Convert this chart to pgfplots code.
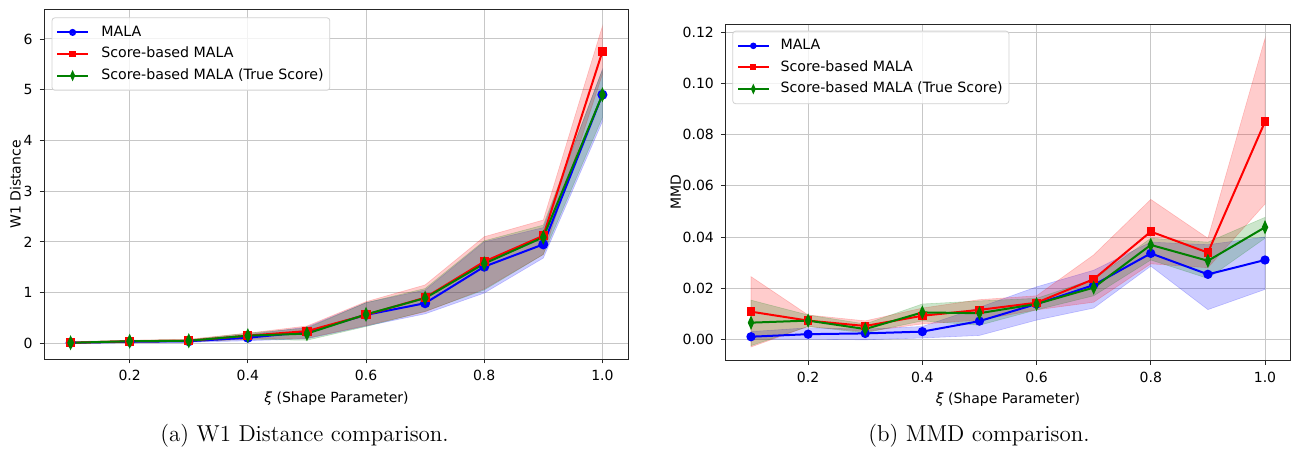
\documentclass[border=0pt]{standalone}
\usepackage{fontspec}
\usepackage{pgfplots}
\pgfplotsset{compat=1.18}
\usepackage{pgfplotstable}
\newfontfamily\dv{DejaVu Sans}

\pgfplotstableread{
x m
0.1 0.01
0.2 0.03
0.3 0.04
0.4 0.11
0.5 0.22
0.6 0.56
0.7 0.79
0.8 1.51
0.9 1.95
1.0 4.90
}\wblue
\pgfplotstableread{
x m
0.1 0.01
0.2 0.04
0.3 0.05
0.4 0.15
0.5 0.24
0.6 0.56
0.7 0.90
0.8 1.61
0.9 2.12
1.0 5.75
}\wred
\pgfplotstableread{
x m
0.1 0.01
0.2 0.04
0.3 0.05
0.4 0.15
0.5 0.19
0.6 0.57
0.7 0.89
0.8 1.57
0.9 2.09
1.0 4.90
}\wgreen
% bands: upper bound forward, lower bound backward
\pgfplotstableread{
x y
0.1 0.02
0.2 0.05
0.3 0.06
0.4 0.17
0.5 0.32
0.6 0.80
0.7 1.05
0.8 2.00
0.9 2.28
1.0 5.40
1.0 4.37
0.9 1.68
0.8 0.99
0.7 0.58
0.6 0.34
0.5 0.09
0.4 0.05
0.3 0.02
0.2 0.01
0.1 0.00
}\wblueband
\pgfplotstableread{
x y
0.1 0.03
0.2 0.06
0.3 0.08
0.4 0.20
0.5 0.34
0.6 0.82
0.7 1.15
0.8 2.10
0.9 2.43
1.0 6.25
1.0 5.30
0.9 1.75
0.8 1.07
0.7 0.62
0.6 0.35
0.5 0.10
0.4 0.08
0.3 0.03
0.2 0.02
0.1 0.00
}\wredband
\pgfplotstableread{
x y
0.1 0.03
0.2 0.06
0.3 0.07
0.4 0.20
0.5 0.30
0.6 0.80
0.7 1.08
0.8 2.02
0.9 2.33
1.0 5.39
1.0 4.45
0.9 1.75
0.8 1.05
0.7 0.63
0.6 0.33
0.5 0.06
0.4 0.08
0.3 0.03
0.2 0.02
0.1 0.00
}\wgreenband

\pgfplotstableread{
x m
0.1 0.0010
0.2 0.0020
0.3 0.0023
0.4 0.0030
0.5 0.0071
0.6 0.0138
0.7 0.0212
0.8 0.0336
0.9 0.0254
1.0 0.0310
}\mblue
\pgfplotstableread{
x m
0.1 0.0108
0.2 0.0073
0.3 0.0052
0.4 0.0092
0.5 0.0115
0.6 0.0143
0.7 0.0235
0.8 0.0421
0.9 0.0339
1.0 0.0851
}\mred
\pgfplotstableread{
x m
0.1 0.0065
0.2 0.0073
0.3 0.0040
0.4 0.0105
0.5 0.0102
0.6 0.0138
0.7 0.0202
0.8 0.0369
0.9 0.0307
1.0 0.0438
}\mgreen
\pgfplotstableread{
x y
0.1 0.0030
0.2 0.0045
0.3 0.0040
0.4 0.0050
0.5 0.0125
0.6 0.0205
0.7 0.0270
0.8 0.0380
0.9 0.0370
1.0 0.0400
1.0 0.0195
0.9 0.0116
0.8 0.0286
0.7 0.0122
0.6 0.0075
0.5 0.0015
0.4 0.0005
0.3 -0.0002
0.2 0.0000
0.1 0.0000
}\mblueband
\pgfplotstableread{
x y
0.1 0.0245
0.2 0.0095
0.3 0.0072
0.4 0.0122
0.5 0.0155
0.6 0.0170
0.7 0.0330
0.8 0.0547
0.9 0.0395
1.0 0.1177
1.0 0.0529
0.9 0.0280
0.8 0.0295
0.7 0.0145
0.6 0.0115
0.5 0.0075
0.4 0.0060
0.3 0.0030
0.2 0.0050
0.1 -0.0030
}\mredband
\pgfplotstableread{
x y
0.1 0.0153
0.2 0.0095
0.3 0.0060
0.4 0.0138
0.5 0.0150
0.6 0.0160
0.7 0.0235
0.8 0.0395
0.9 0.0380
1.0 0.0477
1.0 0.0395
0.9 0.0238
0.8 0.0310
0.7 0.0170
0.6 0.0115
0.5 0.0055
0.4 0.0072
0.3 0.0025
0.2 0.0050
0.1 -0.0025
}\mgreenband

\definecolor{mplgreen}{RGB}{0,128,0}

\pgfplotsset{
  mpl/.style={
    scale only axis,
    anchor=north west,
    font=\dv\fontsize{7}{8.4}\selectfont,
    /pgf/number format/assume math mode=true,
    xmin=0.055, xmax=1.045,
    xtick={0.2,0.4,0.6,0.8,1.0},
    x tick label style={/pgf/number format/.cd, fixed, fixed zerofill, precision=1},
    scaled ticks=false,
    tick pos=left, tick align=outside,
    major tick length=2.2pt,
    tick style={black!85, line width=0.4pt},
    grid=major, major grid style={black!22, line width=0.5pt},
    axis line style={black!85, line width=0.5pt},
    xlabel={{\itshape ξ} (Shape Parameter)},
    xlabel style={yshift=1.5pt},
    legend cell align=left,
    legend style={anchor=north west, draw=black!18,
      rounded corners=1.5pt, fill=white, fill opacity=0.8, text opacity=1,
      font=\dv\fontsize{7.1}{8.4}\selectfont,
      nodes={inner sep=0.9pt, text height=5.4pt, text depth=1.5pt},
      row sep=2.1pt, inner xsep=2.2pt, inner ysep=3pt,
      /tikz/every odd column/.append style={column sep=5.4pt}},
    legend image code/.code={\draw[mark repeat=2,mark phase=2, every mark/.append style={scale=0.62}] plot coordinates {(0pt,0pt)(7.6pt,0pt)(15.2pt,0pt)};},
    band/.style={fill=##1, fill opacity=0.2, draw=##1, draw opacity=0.2, line width=0.3pt, forget plot},
  }
}

\begin{document}
\begin{tikzpicture}
\path[use as bounding box] (0,0) rectangle (647pt,-224.5pt);

\begin{axis}[mpl, at={(22pt,-5pt)}, width=292.5pt, height=174.5pt,
  ymin=-0.31, ymax=6.57, ytick={0,1,2,3,4,5,6},
  legend style={at={(0.013,0.979)}},
  ylabel={W1 Distance}, ylabel style={yshift=-5.5pt}]
  \addplot[band=blue] table[x=x,y=y]{\wblueband} -- cycle;
  \addplot[band=red] table[x=x,y=y]{\wredband} -- cycle;
  \addplot[band=mplgreen] table[x=x,y=y]{\wgreenband} -- cycle;
  \addplot[blue, line width=1pt, mark=*, mark size=2pt, mark options={solid}] table[x=x,y=m]{\wblue};
  \addlegendentry{MALA}
  \addplot[red, line width=1pt, mark=square*, mark size=1.8pt, mark options={solid}] table[x=x,y=m]{\wred};
  \addlegendentry{Score-based MALA}
  \addplot[mplgreen, line width=1pt, mark=diamond*, mark size=2.6pt, mark options={solid, xscale=0.6}] table[x=x,y=m]{\wgreen};
  \addlegendentry{Score-based MALA (True Score)}
\end{axis}

\begin{axis}[mpl, at={(362.65pt,-12pt)}, width=282.7pt, height=168.25pt,
  ymin=-0.0083, ymax=0.1233, ytick={0,0.02,0.04,0.06,0.08,0.10,0.12},
  y tick label style={/pgf/number format/.cd, fixed, fixed zerofill, precision=2},
  legend style={at={(0.0124,0.980)}, /tikz/every odd column/.append style={column sep=4.6pt}},
  ylabel={MMD}, ylabel style={yshift=-6pt}]
  \addplot[band=blue] table[x=x,y=y]{\mblueband} -- cycle;
  \addplot[band=red] table[x=x,y=y]{\mredband} -- cycle;
  \addplot[band=mplgreen] table[x=x,y=y]{\mgreenband} -- cycle;
  \addplot[blue, line width=1pt, mark=*, mark size=1.8pt, mark options={solid}] table[x=x,y=m]{\mblue};
  \addlegendentry{MALA}
  \addplot[red, line width=1pt, mark=square*, mark size=1.6pt, mark options={solid}] table[x=x,y=m]{\mred};
  \addlegendentry{Score-based MALA}
  \addplot[mplgreen, line width=1pt, mark=diamond*, mark size=2.4pt, mark options={solid, xscale=0.6}] table[x=x,y=m]{\mgreen};
  \addlegendentry{Score-based MALA (True Score)}
\end{axis}

\node[font=\fontsize{11.5}{13}\selectfont, anchor=base] at (152.25pt,-220.85pt) {(a) W1 Distance comparison.};
\node[font=\fontsize{11.5}{13}\selectfont, anchor=base] at (489.5pt,-220.85pt) {(b) MMD comparison.};
\end{tikzpicture}
\end{document}
